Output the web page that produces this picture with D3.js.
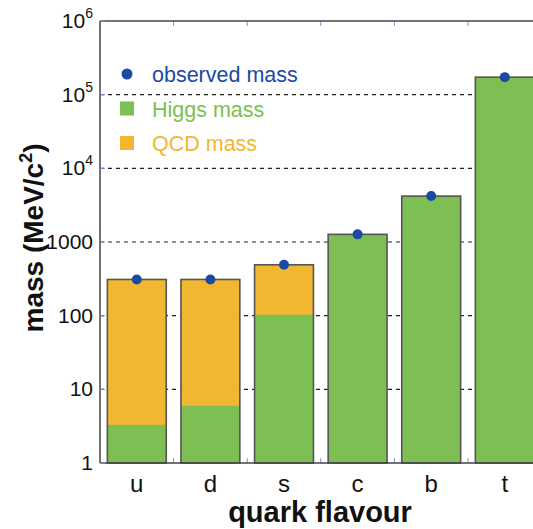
<!DOCTYPE html>
<html>
<head>
<meta charset="utf-8">
<script src="https://cdn.jsdelivr.net/npm/d3@7"></script>
<style>
  body { margin: 0; background: #fff; }
  text { font-family: "Liberation Sans", Arial, sans-serif; }
</style>
</head>
<body>
<svg id="chart" width="533" height="529"></svg>
<script>
// data
const quarks = ['u', 'd', 's', 'c', 'b', 't'];
const observedMass = [310, 310, 490, 1270, 4200, 173000];
const higgsMass = [3.3, 6.0, 103, 1270, 4200, 173000];
const yTicks = [1, 10, 100, 1000, 1e4, 1e5, 1e6];
const yTickLabels = ['1', '10', '100', '1000', '10|4', '10|5', '10|6'];
const legendItems = ['observed mass', 'Higgs mass', 'QCD mass'];

const green = '#7dbf52', orange = '#f1b731', blue = '#1a4aa6';

const svg = d3.select('#chart');
const plotLeft = 100, plotTop = 21, plotBottom = 463;

const y = d3.scaleLog().domain([1, 1e6]).range([plotBottom, plotTop]);
const x = d3.scaleBand().domain(quarks).range([plotLeft, 541.6])
    .paddingInner(0.2).paddingOuter(0.1);

// dashed grid lines
svg.append('g').selectAll('line')
    .data(yTicks.slice(1, -1))
    .join('line')
    .attr('x1', plotLeft).attr('x2', 533)
    .attr('y1', d => y(d)).attr('y2', d => y(d))
    .attr('stroke', '#222').attr('stroke-width', 1.2)
    .attr('stroke-dasharray', '4,4');

// bars: QCD part is the whole bar, Higgs part drawn over it
const bars = svg.append('g');
bars.selectAll('.qcd')
    .data(quarks)
    .join('rect')
    .attr('class', 'qcd')
    .attr('x', d => x(d))
    .attr('width', x.bandwidth())
    .attr('y', (d, i) => y(observedMass[i]))
    .attr('height', (d, i) => plotBottom - y(observedMass[i]))
    .attr('fill', orange);
bars.selectAll('.higgs')
    .data(quarks)
    .join('rect')
    .attr('class', 'higgs')
    .attr('x', d => x(d))
    .attr('width', x.bandwidth())
    .attr('y', (d, i) => y(higgsMass[i]))
    .attr('height', (d, i) => plotBottom - y(higgsMass[i]))
    .attr('fill', green);
bars.selectAll('.outline')
    .data(quarks)
    .join('rect')
    .attr('class', 'outline')
    .attr('x', d => x(d))
    .attr('width', x.bandwidth())
    .attr('y', (d, i) => y(observedMass[i]))
    .attr('height', (d, i) => plotBottom - y(observedMass[i]))
    .attr('fill', 'none')
    .attr('stroke', '#555').attr('stroke-width', 1.6);

// minor blue ticks between bars (bottom and top)
const gaps = quarks.slice(1).map(d => x(d) - x.step() * x.paddingInner() / 2);
svg.append('g').selectAll('line')
    .data(gaps)
    .join('line')
    .attr('x1', d => d).attr('x2', d => d)
    .attr('y1', plotBottom).attr('y2', plotBottom - 5)
    .attr('stroke', '#8090d8').attr('stroke-width', 1);
svg.append('g').selectAll('line')
    .data(gaps)
    .join('line')
    .attr('x1', d => d).attr('x2', d => d)
    .attr('y1', plotTop).attr('y2', plotTop + 5)
    .attr('stroke', '#8090d8').attr('stroke-width', 1);

// observed mass dots
svg.append('g').selectAll('circle')
    .data(quarks)
    .join('circle')
    .attr('cx', d => x(d) + x.bandwidth() / 2)
    .attr('cy', (d, i) => y(observedMass[i]))
    .attr('r', 5)
    .attr('fill', blue);

// frame
svg.append('line').attr('x1', plotLeft).attr('x2', 533).attr('y1', plotTop).attr('y2', plotTop)
    .attr('stroke', '#444').attr('stroke-width', 1.5);
svg.append('line').attr('x1', plotLeft).attr('x2', 533).attr('y1', plotBottom).attr('y2', plotBottom)
    .attr('stroke', '#444').attr('stroke-width', 1.5);
svg.append('line').attr('x1', plotLeft).attr('x2', plotLeft).attr('y1', plotTop).attr('y2', plotBottom)
    .attr('stroke', '#444').attr('stroke-width', 1.5);

// y axis ticks and labels
const yAxis = svg.append('g');
yAxis.selectAll('line')
    .data(yTicks)
    .join('line')
    .attr('x1', plotLeft).attr('x2', plotLeft + 5)
    .attr('y1', d => y(d)).attr('y2', d => y(d))
    .attr('stroke', '#8090d8');
yAxis.selectAll('text')
    .data(yTicks)
    .join('text')
    .attr('x', plotLeft - 7)
    .attr('y', d => y(d) + 7)
    .attr('text-anchor', 'end')
    .attr('font-size', 21)
    .attr('fill', '#111')
    .each(function (d, i) {
        const parts = yTickLabels[i].split('|');
        const t = d3.select(this);
        if (parts.length === 1) {
            t.text(parts[0]);
        } else {
            t.append('tspan').text(parts[0]);
            t.append('tspan').attr('dy', -10)
                .attr('font-size', 14).text(parts[1]);
        }
    });

// x tick labels
svg.append('g').selectAll('text')
    .data(quarks)
    .join('text')
    .attr('x', d => x(d) + x.bandwidth() / 2)
    .attr('y', 492)
    .attr('text-anchor', 'middle')
    .attr('font-size', 24)
    .attr('fill', '#111')
    .text(d => d);

// axis titles
svg.append('text')
    .attr('x', 320).attr('y', 522)
    .attr('text-anchor', 'middle')
    .attr('font-size', 29).attr('font-weight', 'bold')
    .attr('fill', '#111')
    .text('quark flavour');

const yTitle = svg.append('text')
    .attr('transform', 'translate(43,238) rotate(-90)')
    .attr('text-anchor', 'middle')
    .attr('font-size', 28).attr('font-weight', 'bold')
    .attr('fill', '#111');
yTitle.append('tspan').text('mass (MeV/c');
yTitle.append('tspan').attr('dy', -11).attr('font-size', 18).text('2');
yTitle.append('tspan').attr('dy', 11).text(')');

// legend
const legend = svg.append('g');
const legendColors = [blue, green, orange];
legendItems.forEach((name, i) => {
    const ly = 74 + i * 34.5;
    if (i === 0) {
        legend.append('circle').attr('cx', 127).attr('cy', ly).attr('r', 5.5).attr('fill', blue);
    } else {
        legend.append('rect').attr('x', 120).attr('y', ly - 7).attr('width', 14).attr('height', 14)
            .attr('fill', legendColors[i]);
    }
    legend.append('text')
        .attr('x', 152).attr('y', ly + 8)
        .attr('font-size', 21.5)
        .attr('fill', legendColors[i])
        .text(name);
});
</script>
</body>
</html>
